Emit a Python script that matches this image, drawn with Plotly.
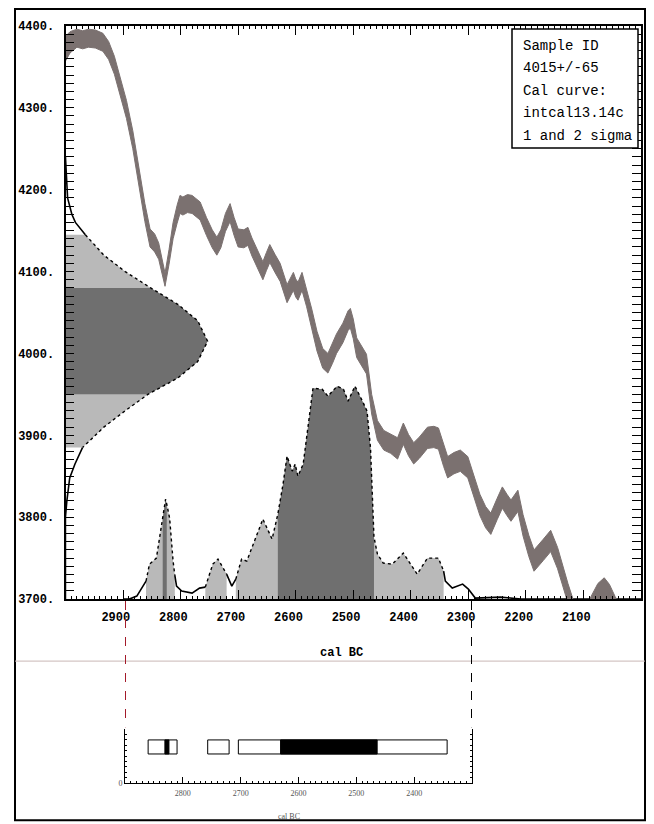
import numpy as np
import plotly.graph_objects as go

# ---------------- data ----------------
curve_bc = [3000, 2992, 2980, 2970, 2960, 2948, 2935, 2925, 2915, 2905, 2894, 2883, 2871,
            2862, 2853, 2845, 2838, 2832, 2827, 2820, 2813, 2806, 2801, 2796, 2788, 2780,
            2772, 2766, 2755, 2745, 2737, 2730, 2722, 2714, 2707, 2700, 2690, 2683, 2676,
            2665, 2657, 2651, 2645, 2636, 2627, 2615, 2609, 2604, 2600, 2596, 2589, 2581,
            2572, 2563, 2553, 2544, 2536, 2529, 2518, 2509, 2505, 2500, 2494, 2485, 2477,
            2468, 2458, 2447, 2435, 2423, 2413, 2404, 2395, 2385, 2371, 2360, 2352, 2343,
            2336, 2325, 2314, 2301, 2290, 2280, 2270, 2261, 2250, 2241, 2233, 2226, 2214,
            2205, 2195, 2186, 2170, 2157, 2145, 2135, 2127, 2115, 2100, 2087, 2075, 2064,
            2055, 2045, 2030, 2000]
curve_c14 = [4372, 4380, 4385, 4383, 4385, 4384, 4380, 4370, 4352, 4326, 4298, 4261, 4210,
             4172, 4141, 4135, 4125, 4105, 4090, 4118, 4150, 4170, 4182, 4180, 4183, 4182,
             4178, 4174, 4155, 4140, 4131, 4140, 4160, 4172, 4155, 4141, 4140, 4143, 4130,
             4112, 4101, 4112, 4122, 4110, 4099, 4073, 4082, 4088, 4080, 4076, 4088, 4068,
             4042, 4015, 3994, 3988, 4000, 4012, 4025, 4040, 4043, 4030, 4007, 3997, 3987,
             3938, 3906, 3894, 3890, 3884, 3902, 3888, 3878, 3885, 3897, 3898, 3896, 3875,
             3861, 3866, 3869, 3861, 3836, 3815, 3800, 3792, 3810, 3824, 3815, 3808, 3820,
             3790, 3765, 3747, 3760, 3771, 3750, 3725, 3706, 3680, 3670, 3690, 3706, 3713,
             3705, 3690, 3670, 3650]
curve_err = [15, 13, 11, 11, 11, 11, 11, 11, 11, 11, 11, 11, 11,
             11, 11, 11, 10, 9, 8, 9, 10, 11, 11, 11, 11, 11,
             11, 11, 11, 11, 11, 11, 11, 11, 11, 11, 11, 11, 11,
             11, 11, 11, 11, 11, 11, 11, 11, 11, 11, 11, 11, 11,
             12, 12, 12, 12, 12, 12, 12, 12, 12, 12, 12, 12, 12,
             12, 12, 12, 12, 13, 13, 13, 13, 13, 13, 13, 13, 13,
             13, 13, 13, 13, 13, 13, 13, 13, 13, 13, 13, 13, 13,
             13, 13, 13, 13, 13, 13, 13, 13, 13, 13, 13, 13, 13,
             13, 13, 13, 13]

gauss_c14 = [4240, 4230, 4210, 4190, 4170, 4160, 4145, 4120, 4100, 4080, 4060, 4040, 4015,
             3990, 3970, 3950, 3930, 3910, 3885, 3865, 3848, 3836, 3820, 3800, 3700]
gauss_prob = [0.0, 0.003, 0.007, 0.015, 0.045, 0.07, 0.14, 0.27, 0.42, 0.60, 0.79, 0.93, 1.0,
              0.93, 0.79, 0.58, 0.42, 0.27, 0.12, 0.067, 0.03, 0.02, 0.01, 0.0, 0.0]
c14_sigma1 = (4080, 3950)
c14_sigma2 = (4145, 3885)

dist_bc = [2900, 2889, 2876, 2862, 2860, 2854, 2842, 2831, 2826, 2824, 2819, 2813, 2810,
           2807, 2798, 2780, 2767, 2757, 2744, 2735, 2720, 2711, 2704, 2694, 2685, 2667,
           2657, 2641, 2631, 2622, 2615, 2606, 2601, 2596, 2587, 2578, 2570, 2554, 2544,
           2528, 2517, 2509, 2497, 2484, 2476, 2470, 2464, 2458, 2448, 2432, 2413, 2389,
           2371, 2352, 2343, 2340, 2328, 2310, 2300, 2288, 2244, 2209, 2000]
dist_prob = [0, 0, 3, 15, 18, 35, 41, 81, 100, 95, 81, 38, 24,
             13, 8, 6, 11, 12, 35, 40, 25, 13, 20, 40, 38, 65,
             80, 60, 85, 115, 143, 128, 135, 123, 135, 175, 211, 210, 203,
             213, 210, 198, 213, 198, 188, 151, 62, 45, 36, 35, 46, 25,
             41, 41, 28, 18, 11, 15, 10, 1, 2, 0, 0]

sigma2_ranges = [(2860, 2810), (2757, 2720), (2704, 2343)]
sigma1_ranges = [(2831, 2824), (2631, 2464)]

mini_ticks = [2800, 2700, 2600, 2500, 2400]
legend_lines = ["Sample ID", "4015+/-65", "Cal curve:", "intcal13.14c", "1 and 2 sigma"]
x_title = "cal BC"

# ---------------- layout helpers ----------------
W, H = 654, 824
def px(x):
    return x / W
def py(y):
    return 1 - ((y - 5.1) / 0.9827) / H

X_RANGE = [3000, 2000]
Y_RANGE = [3700, 4400]
X_VIEW = [2999.9, 2000.1]
MINI_RANGE = [2900, 2300]
GAUSS_W = 247
DIST_H = 260
NB = "\u00a0"

DARK = "#6f6f6f"
LIGHT = "#b9b9b9"
BAND = "#7b7170"
MONO = "Liberation Mono"

g_c = np.array(gauss_c14, float)
g_p = np.array(gauss_prob, float)
g_x = X_RANGE[0] - g_p * GAUSS_W

d_x = np.array(dist_bc, float)
d_p = np.array(dist_prob, float)
d_y = Y_RANGE[0] + d_p / d_p.max() * DIST_H

fig = go.Figure()

def gauss_poly(hi, lo, color):
    m = (g_c <= hi) & (g_c >= lo)
    xs = list(g_x[m]) + [X_RANGE[0], X_RANGE[0]]
    ys = list(g_c[m]) + [g_c[m][-1], g_c[m][0]]
    fig.add_trace(go.Scatter(x=xs, y=ys, fill="toself", fillcolor=color, mode="none",
                             showlegend=False, hoverinfo="skip"))

gauss_poly(c14_sigma2[0], c14_sigma1[0], LIGHT)
gauss_poly(c14_sigma1[1], c14_sigma2[1], LIGHT)
gauss_poly(c14_sigma1[0], c14_sigma1[1], DARK)

def dist_poly(a, b, color):
    m = (d_x <= a) & (d_x >= b)
    xs = list(d_x[m]) + [d_x[m][-1], d_x[m][0]]
    ys = list(d_y[m]) + [Y_RANGE[0], Y_RANGE[0]]
    fig.add_trace(go.Scatter(x=xs, y=ys, fill="toself", fillcolor=color, mode="none",
                             showlegend=False, hoverinfo="skip"))

for a, b in sigma2_ranges:
    dist_poly(a, b, LIGHT)
for a, b in sigma1_ranges:
    dist_poly(a, b, DARK)

g_in = (g_c <= c14_sigma2[0]) & (g_c >= c14_sigma2[1])
g_in_strict = (g_c < c14_sigma2[0]) & (g_c > c14_sigma2[1])
fig.add_trace(go.Scatter(x=np.where(g_in, g_x, None), y=g_c, mode="lines",
                         line=dict(color="black", width=1.4, dash="dot"),
                         showlegend=False, hoverinfo="skip", connectgaps=False))
fig.add_trace(go.Scatter(x=np.where(~g_in_strict, g_x, None), y=g_c, mode="lines",
                         line=dict(color="black", width=1.6),
                         showlegend=False, hoverinfo="skip", connectgaps=False))

d_in = np.zeros(len(d_x), bool)
d_in_strict = np.zeros(len(d_x), bool)
for a, b in sigma2_ranges:
    d_in |= (d_x <= a) & (d_x >= b)
    d_in_strict |= (d_x < a) & (d_x > b)
fig.add_trace(go.Scatter(x=d_x, y=np.where(d_in, d_y, None), mode="lines",
                         line=dict(color="black", width=1.4, dash="dot"),
                         showlegend=False, hoverinfo="skip", connectgaps=False))
fig.add_trace(go.Scatter(x=d_x, y=np.where(~d_in_strict, d_y, None), mode="lines",
                         line=dict(color="black", width=1.6),
                         showlegend=False, hoverinfo="skip", connectgaps=False))

c_bc = np.array(curve_bc, float)
c_c = np.array(curve_c14, float)
c_e = np.array(curve_err, float)
fig.add_trace(go.Scatter(x=c_bc, y=c_c - c_e, mode="lines", line=dict(color=BAND, width=1),
                         showlegend=False, hoverinfo="skip"))
fig.add_trace(go.Scatter(x=c_bc, y=c_c + c_e, mode="lines", line=dict(color=BAND, width=1),
                         fill="tonexty", fillcolor=BAND, showlegend=False, hoverinfo="skip"))

BAR_LO, BAR_HI = 0.54, 0.80
def bar(a, b, fillc, xa="x2", op=1.0):
    fig.add_trace(go.Scatter(x=[a, b, b, a, a], y=[BAR_LO, BAR_LO, BAR_HI, BAR_HI, BAR_LO],
                             fill="toself", fillcolor=fillc, mode="lines", opacity=op,
                             line=dict(color="black", width=1), xaxis=xa, yaxis="y2",
                             showlegend=False, hoverinfo="skip"))
for a, b in sigma2_ranges:
    bar(a, b, "white")
for a, b in sigma1_ranges:
    bar(a, b, "black")

# invisible copies that carry the (lowered) tick-label axes
fig.add_trace(go.Scatter(x=c_bc, y=c_c, xaxis="x3", yaxis="y", mode="lines", opacity=0,
                         line=dict(width=0), showlegend=False, hoverinfo="skip"))
bar(sigma2_ranges[2][0], sigma2_ranges[2][1], "white", xa="x4", op=0)

fig.update_layout(
    width=W, height=H, margin=dict(l=0, r=0, t=0, b=0),
    paper_bgcolor="white", plot_bgcolor="white", showlegend=False,
    xaxis=dict(domain=[px(65.5), px(641)], range=X_VIEW, anchor="y",
               tickmode="linear", tick0=2000, dtick=100, ticks="inside", ticklen=9,
               tickwidth=1.3, tickcolor="black", showline=True, linecolor="black",
               linewidth=1.5, mirror="allticks", showgrid=False, zeroline=False,
               showticklabels=False,
               minor=dict(ticks="inside", ticklen=3, tickwidth=1, tickcolor="black",
                          dtick=10, tick0=2000, showgrid=False)),
    xaxis3=dict(overlaying="x", anchor="free", position=py(607), range=X_VIEW,
                tickmode="linear", tick0=2000, dtick=100, ticks="", showline=False,
                showgrid=False, zeroline=False, ticksuffix=NB * 2,
                tickfont=dict(family=MONO, size=12, color="black", weight="bold")),
    yaxis=dict(domain=[py(598), py(25)], range=Y_RANGE, anchor="x",
               tickmode="linear", tick0=3700, dtick=100, ticksuffix="." + NB,
               ticks="inside", ticklen=9, tickwidth=1.3, tickcolor="black",
               showline=True, linecolor="black", linewidth=1.5, mirror="allticks",
               showgrid=False, zeroline=False,
               tickfont=dict(family=MONO, size=12, color="black", weight="bold"),
               minor=dict(ticks="inside", ticklen=3, tickwidth=1, tickcolor="black",
                          dtick=10, tick0=3700, showgrid=False)),
    xaxis2=dict(domain=[px(125), px(472)], range=MINI_RANGE, anchor="y2",
                tickmode="array", tickvals=mini_ticks, ticks="inside", ticklen=6,
                tickcolor="black", showline=True, linecolor="black", linewidth=1,
                showgrid=False, zeroline=False, showticklabels=False,
                minor=dict(ticks="inside", ticklen=2, tickcolor="black", dtick=10,
                           tick0=2300, showgrid=False)),
    xaxis4=dict(overlaying="x2", anchor="free", position=py(786), range=MINI_RANGE,
                tickmode="array", tickvals=mini_ticks, ticks="", showline=False,
                showgrid=False, zeroline=False, ticksuffix=NB * 5,
                tickfont=dict(family="Liberation Serif", size=8, color="#555")),
    yaxis2=dict(domain=[py(782), py(728)], range=[0, 1], anchor="x2",
                tickmode="array", tickvals=[0], ticktext=["0"], ticks="inside",
                ticklen=2, tickcolor="black", showline=True, linecolor="black",
                linewidth=1, mirror="allticks", showgrid=False, zeroline=False,
                tickfont=dict(family="Liberation Serif", size=8, color="#555"),
                minor=dict(dtick=0.1, tick0=0, ticks="inside", ticklen=2,
                           tickcolor="black", showgrid=False)),
)

shapes = [
    dict(type="rect", xref="paper", yref="paper", x0=px(15), x1=px(645), y0=py(819), y1=py(8),
         line=dict(color="black", width=2), layer="above"),
    dict(type="line", xref="paper", yref="paper", x0=px(15), x1=px(645), y0=py(660), y1=py(660),
         line=dict(color="#c9b8b6", width=1)),
    dict(type="line", xref="x2", yref="paper", x0=2900, x1=2900, y0=py(600), y1=py(726),
         line=dict(color="#a31a2a", width=2, dash="dash")),
    dict(type="line", xref="x2", yref="paper", x0=2300, x1=2300, y0=py(600), y1=py(726),
         line=dict(color="black", width=2, dash="dash")),
    dict(type="rect", xref="paper", yref="paper", x0=px(512), x1=px(638), y0=py(147), y1=py(28),
         line=dict(color="black", width=1.5), fillcolor="white", layer="above"),
]
fig.update_layout(shapes=shapes)

annotations = []
for i, t in enumerate(legend_lines):
    annotations.append(dict(text=t, xref="paper", yref="paper", x=px(521), y=py(45 + i * 22.5),
                            xanchor="left", yanchor="middle", showarrow=False,
                            font=dict(family=MONO, size=14, color="black")))
annotations.append(dict(text=x_title, xref="paper", yref="paper", x=px(341), y=py(652),
                        xanchor="center", yanchor="middle", showarrow=False,
                        font=dict(family=MONO, size=12, color="black", weight="bold")))
annotations.append(dict(text=x_title, xref="paper", yref="paper", x=px(289), y=py(815),
                        xanchor="center", yanchor="middle", showarrow=False,
                        font=dict(family="Liberation Serif", size=8, color="#555")))
fig.update_layout(annotations=annotations)

fig.write_html("out.html", config={"displayModeBar": False},
               post_script="document.body.style.margin='0';document.body.style.overflow='hidden';")
